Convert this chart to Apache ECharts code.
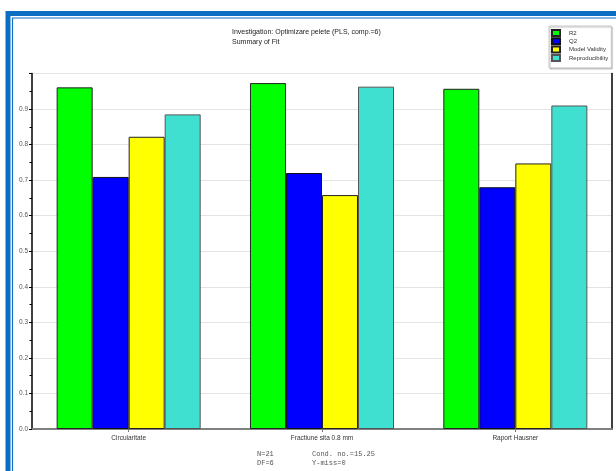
<!DOCTYPE html>
<html>
<head>
<meta charset="utf-8">
<script src="https://cdn.jsdelivr.net/npm/echarts@6/dist/echarts.min.js"></script>
<style>
  html, body { margin: 0; padding: 0; background: #ffffff; }
  #chart { width: 616px; height: 471px; }
</style>
</head>
<body>
<div id="chart"></div>
<script>
// Responses summarised by the PLS model
const categories = ['Circularitate', 'Fractiune sita 0.8 mm', 'Raport Hausner'];

// Fit statistics per response
const r2 = [0.961, 0.973, 0.957];
const q2 = [0.709, 0.720, 0.680];
const modelValidity = [0.822, 0.658, 0.747];
const reproducibility = [0.885, 0.963, 0.910];

const seriesNames = ['R2', 'Q2', 'Model Validity', 'Reproducibility'];
const seriesColors = ['#00ff00', '#0000ff', '#ffff00', '#40e0d0'];
const seriesBorders = ['#222222', '#111111', '#222222', '#555555'];
const seriesValues = [r2, q2, modelValidity, reproducibility];

const titleLines = ['Investigation: Optimizare pelete (PLS, comp.=6)', 'Summary of Fit'];
const footLeft = ['N=21', 'DF=6'];
const footRight = ['Cond. no.=15.25', 'Y-miss=0'];

const FONT = '"Liberation Sans", Arial, sans-serif';
const MONO = '"Liberation Mono", "DejaVu Sans Mono", monospace';
const FRAME_BLUE = '#0b6ec3';

const chart = echarts.init(document.getElementById('chart'), null, { renderer: 'canvas' });

const series = seriesNames.map((name, i) => ({
  name: name,
  type: 'bar',
  xAxisIndex: 0,
  yAxisIndex: 0,
  data: seriesValues[i],
  barGap: '0%',
  barCategoryGap: '25.5%',
  itemStyle: {
    color: seriesColors[i],
    borderColor: seriesBorders[i],
    borderWidth: 1
  },
  emphasis: { disabled: true }
}));

const footText = [];
footLeft.forEach((t, i) => {
  footText.push({
    type: 'text', left: 257, top: 451 + i * 9,
    style: { text: t, font: '7px ' + MONO, fill: '#555555' }
  });
});
footRight.forEach((t, i) => {
  footText.push({
    type: 'text', left: 312, top: 451 + i * 9,
    style: { text: t, font: '7px ' + MONO, fill: '#555555' }
  });
});

const option = {
  backgroundColor: '#ffffff',
  animation: false,
  title: {
    text: titleLines.join('\n'),
    left: 232,
    top: 27,
    padding: 0,
    textStyle: { fontFamily: FONT, fontSize: 7, fontWeight: 'normal', color: '#222222', lineHeight: 10 }
  },
  legend: {
    orient: 'vertical',
    left: 549,
    top: 26,
    padding: [3, 3, 6, 2],
    itemWidth: 8,
    itemHeight: 6,
    itemGap: 0.3,
    icon: 'rect',
    backgroundColor: '#ffffff',
    borderColor: '#c8c8c8',
    borderWidth: 1,
    shadowColor: 'rgba(0,0,0,0.25)',
    shadowOffsetX: 1,
    shadowOffsetY: 1,
    shadowBlur: 1,
    textStyle: { fontFamily: FONT, fontSize: 6, color: '#333333', lineHeight: 6, padding: [0, 0, 0, 4] },
    data: seriesNames
  },
  grid: { left: 32, right: 4, top: 73.5, bottom: 42, containLabel: false },
  xAxis: [
    {
      type: 'category',
      data: categories,
      position: 'bottom',
      axisLine: { show: true, lineStyle: { color: '#000000', width: 1.5 } },
      axisTick: { show: true, alignWithLabel: true, length: 3, lineStyle: { color: '#777777' } },
      axisLabel: { fontFamily: FONT, fontSize: 6.5, color: '#333333', margin: 6 },
      splitLine: { show: false }
    },
    {
      type: 'category',
      data: categories,
      position: 'top',
      axisLine: { show: true, lineStyle: { color: '#808080', width: 2 } },
      axisTick: { show: false },
      axisLabel: { show: false },
      splitLine: { show: false }
    }
  ],
  yAxis: [
    {
      type: 'value',
      min: 0,
      max: 1.0,
      interval: 0.1,
      position: 'left',
      axisLine: { show: true, lineStyle: { color: '#000000', width: 1.5 } },
      axisTick: { show: true, length: 3, lineStyle: { color: '#000000' } },
      minorTick: { show: true, splitNumber: 2, length: 2.5, lineStyle: { color: '#000000' } },
      axisLabel: {
        fontFamily: FONT, fontSize: 6.5, color: '#555555', margin: 4,
        formatter: v => (v > 0.95 ? '' : v.toFixed(1))
      },
      splitLine: { show: true, lineStyle: { color: '#e4e4e4', width: 1 } }
    },
    {
      type: 'value',
      min: 0,
      max: 1.0,
      position: 'right',
      axisLine: { show: true, lineStyle: { color: '#000000', width: 1.5 } },
      axisTick: { show: false },
      axisLabel: { show: false },
      splitLine: { show: false }
    }
  ],
  series: series,
  graphic: [
    // double blue frame round the whole chart
    {
      type: 'rect', silent: true, z: 100,
      shape: { x: 8, y: 13.5, width: 700, height: 600 },
      style: { fill: 'none', stroke: FRAME_BLUE, lineWidth: 5 }
    },
    {
      type: 'rect', silent: true, z: 100,
      shape: { x: 12.5, y: 18, width: 700, height: 600 },
      style: { fill: 'none', stroke: FRAME_BLUE, lineWidth: 1.2 }
    }
  ].concat(footText)
};

chart.setOption(option);
</script>
</body>
</html>
